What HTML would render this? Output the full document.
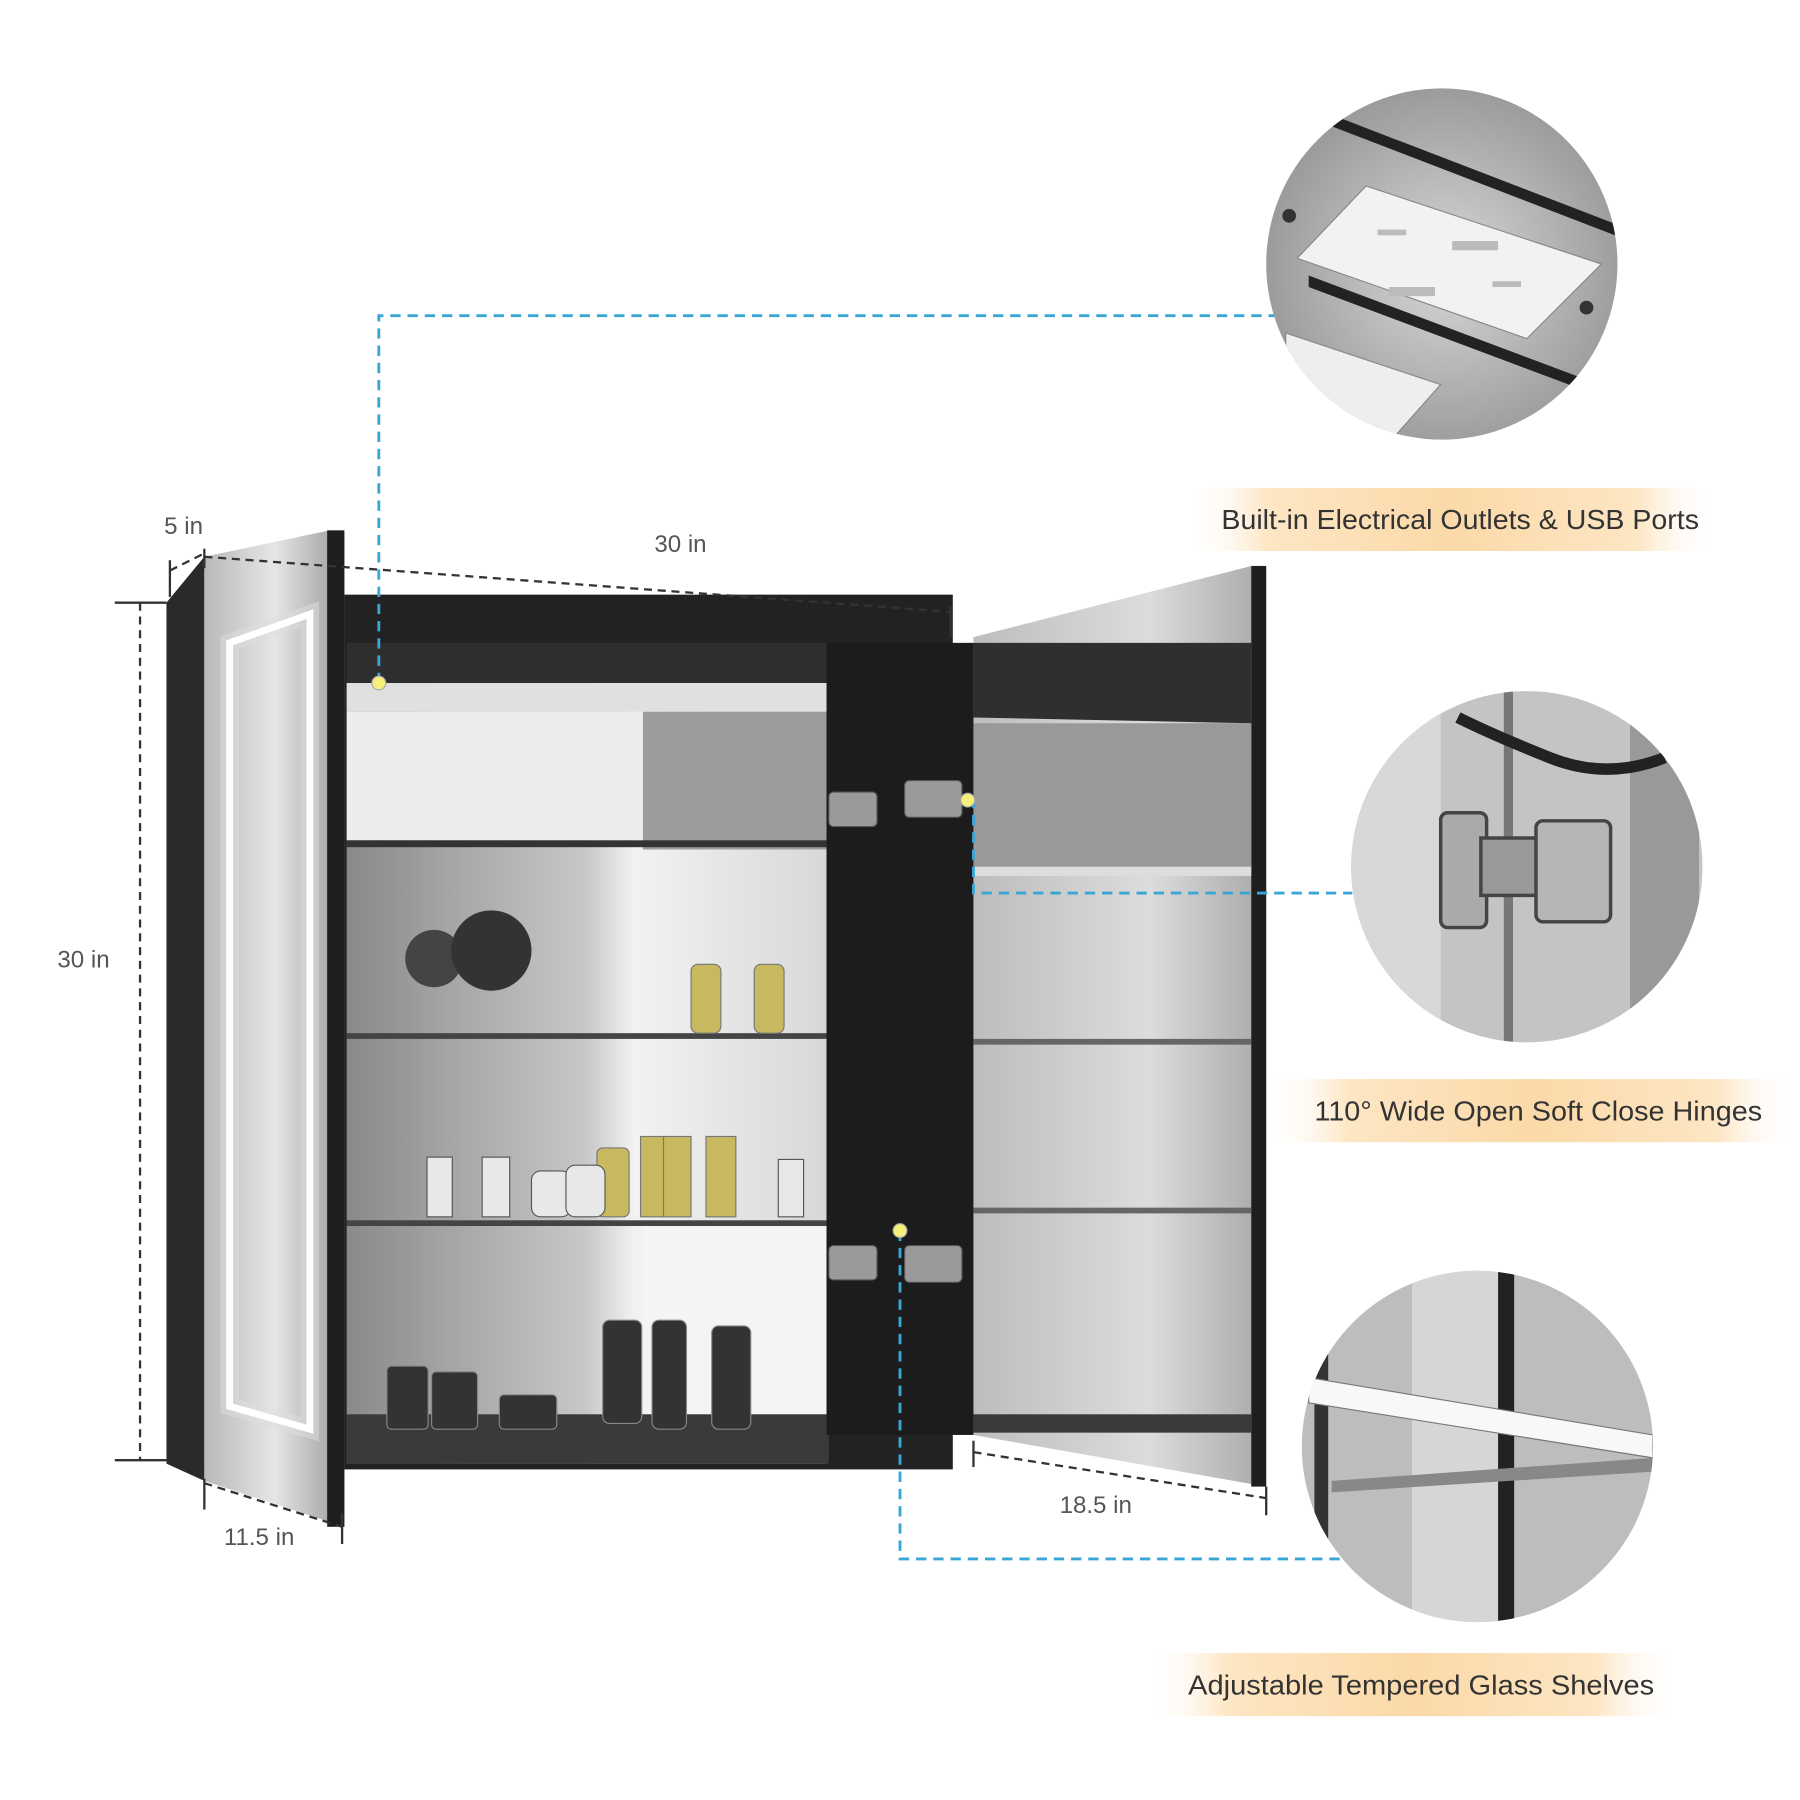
<!DOCTYPE html>
<html><head><meta charset="utf-8"><style>
html,body{margin:0;padding:0;background:#fff;}
svg{display:block;}
text{font-family:"Liberation Sans",sans-serif;}
</style></head><body>
<svg width="1800" height="1800" viewBox="0 0 1568 1568" xmlns="http://www.w3.org/2000/svg">
<defs>
<linearGradient id="mir" x1="0" y1="0" x2="1" y2="0"><stop offset="0" stop-color="#b8b8b8"/><stop offset=".5" stop-color="#e6e6e6"/><stop offset="1" stop-color="#9a9a9a"/></linearGradient>
<linearGradient id="inner" x1="0" y1="0" x2="1" y2="0"><stop offset="0" stop-color="#8a8a8a"/><stop offset=".5" stop-color="#c8c8c8"/><stop offset=".6" stop-color="#f2f2f2"/><stop offset="1" stop-color="#d8d8d8"/></linearGradient>
<linearGradient id="rdoor" x1="0" y1="0" x2="1" y2="0"><stop offset="0" stop-color="#bdbdbd"/><stop offset=".6" stop-color="#dcdcdc"/><stop offset="1" stop-color="#a8a8a8"/></linearGradient>
<linearGradient id="lab" x1="0" y1="0" x2="1" y2="0"><stop offset="0" stop-color="#fff" stop-opacity="0"/><stop offset=".15" stop-color="#fde6c4"/><stop offset=".5" stop-color="#fbd9a8"/><stop offset=".85" stop-color="#fde6c4"/><stop offset="1" stop-color="#fff" stop-opacity="0"/></linearGradient>
<radialGradient id="c1" cx=".5" cy=".5" r=".6"><stop offset="0" stop-color="#d8d8d8"/><stop offset="1" stop-color="#8e8e8e"/></radialGradient>
<clipPath id="cp1"><circle cx="1256" cy="230" r="153"/></clipPath>
<clipPath id="cp2"><circle cx="1330" cy="755" r="153"/></clipPath>
<clipPath id="cp3"><circle cx="1287" cy="1260" r="153"/></clipPath>
</defs>

<!-- Left door -->
<polygon points="145,525 178,485 178,1290 145,1275" fill="#2a2a2a"/>
<polygon points="178,485 287,462 300,465 300,1330 178,1290" fill="url(#mir)"/>
<rect x="285" y="462" width="15" height="868" fill="#1e1e1e"/>
<polygon points="200,560 270,535 270,1245 200,1225" fill="none" stroke="#ddd" stroke-width="16" stroke-opacity=".5"/>
<polygon points="200,560 270,535 270,1245 200,1225" fill="none" stroke="#fff" stroke-width="6"/>

<!-- Cabinet body -->
<rect x="300" y="518" width="530" height="762" fill="#222"/>
<rect x="302" y="595" width="418" height="680" fill="url(#inner)"/>
<rect x="302" y="560" width="420" height="35" fill="#2e2e2e"/>
<rect x="302" y="595" width="420" height="25" fill="#e0e0e0"/>
<rect x="560" y="620" width="160" height="120" fill="#9c9c9c"/>
<rect x="302" y="620" width="258" height="112" fill="#ececec"/>
<rect x="302" y="732" width="420" height="6" fill="#333"/>
<rect x="302" y="900" width="420" height="5" fill="#444"/>
<rect x="302" y="1063" width="420" height="5" fill="#444"/>
<rect x="560" y="1068" width="160" height="170" fill="#f4f4f4"/>
<rect x="302" y="1232" width="420" height="43" fill="#3a3a3a"/>
<!-- divider -->
<rect x="720" y="560" width="128" height="690" fill="#1c1c1c"/>
<g fill="#9a9a9a" stroke="#555"><rect x="722" y="690" width="42" height="30" rx="4"/><rect x="788" y="680" width="50" height="32" rx="4"/><rect x="722" y="1085" width="42" height="30" rx="4"/><rect x="788" y="1085" width="50" height="32" rx="4"/></g>
<!-- mirrors -->
<circle cx="378" cy="835" r="25" fill="#444"/><circle cx="428" cy="828" r="35" fill="#333"/>
<!-- bottles -->
<g fill="#c8b860" stroke="#777">
<rect x="602" y="840" width="26" height="60" rx="6"/><rect x="657" y="840" width="26" height="60" rx="6"/>
<rect x="520" y="1000" width="28" height="60" rx="5"/><rect x="558" y="990" width="22" height="70"/><rect x="578" y="990" width="24" height="70"/><rect x="615" y="990" width="26" height="70"/>
<rect x="873" y="848" width="26" height="55" rx="6"/><rect x="935" y="840" width="26" height="62" rx="6"/>
<rect x="910" y="990" width="24" height="65"/><rect x="943" y="990" width="24" height="65"/><rect x="975" y="990" width="24" height="65"/><rect x="1008" y="995" width="24" height="60"/>
</g>
<g fill="#e8e8e8" stroke="#555">
<rect x="372" y="1008" width="22" height="52"/><rect x="420" y="1008" width="24" height="52"/><rect x="678" y="1010" width="22" height="50"/><rect x="858" y="1005" width="22" height="50"/>
<rect x="463" y="1020" width="34" height="40" rx="8"/><rect x="493" y="1015" width="34" height="45" rx="8"/><rect x="1045" y="1015" width="36" height="40" rx="8"/>
</g>
<g fill="#333" stroke="#888">
<rect x="525" y="1150" width="34" height="90" rx="6"/><rect x="568" y="1150" width="30" height="95" rx="6"/><rect x="620" y="1155" width="34" height="90" rx="6"/>
<rect x="337" y="1190" width="36" height="55" rx="4"/><rect x="376" y="1195" width="40" height="50" rx="4"/><rect x="435" y="1215" width="50" height="30" rx="4"/>
<rect x="900" y="1135" width="34" height="85" rx="6"/><rect x="945" y="1135" width="34" height="85" rx="6"/><rect x="992" y="1135" width="32" height="85" rx="6"/><rect x="1040" y="1185" width="45" height="32" rx="4"/>
</g>

<!-- Right door -->
<polygon points="848,555 1090,493 1103,495 1103,1295 848,1250" fill="url(#rdoor)"/>
<rect x="1090" y="493" width="13" height="802" fill="#1e1e1e"/>
<polygon points="848,560 1090,560 1090,630 848,625" fill="#2f2f2f"/>
<polygon points="848,630 1090,630 1090,760 848,760" fill="#999"/>
<rect x="848" y="755" width="242" height="8" fill="#ddd"/>
<rect x="848" y="905" width="242" height="5" fill="#666"/>
<rect x="848" y="1052" width="242" height="5" fill="#666"/>
<rect x="848" y="1232" width="242" height="16" fill="#3a3a3a"/>

<!-- Circles -->
<g clip-path="url(#cp1)"><rect x="1100" y="75" width="320" height="320" fill="url(#c1)"/>
<polygon points="1160,100 1420,200 1420,210 1160,110" fill="#222"/>
<polygon points="1140,240 1420,345 1420,355 1140,250" fill="#222"/>
<polygon points="1130,225 1190,162 1395,230 1330,295" fill="#f2f2f2" stroke="#888"/>
<g fill="#bbb"><rect x="1200" y="200" width="25" height="5"/><rect x="1265" y="210" width="40" height="8"/><rect x="1210" y="250" width="40" height="8"/><rect x="1300" y="245" width="25" height="5"/></g>
<circle cx="1123" cy="188" r="6" fill="#333"/><circle cx="1382" cy="268" r="6" fill="#333"/>
<polygon points="1120,290 1255,335 1215,380 1120,360" fill="#eee" stroke="#888"/></g>
<g clip-path="url(#cp2)"><rect x="1175" y="600" width="320" height="320" fill="#c4c4c4"/>
<rect x="1175" y="600" width="80" height="320" fill="#d8d8d8"/><rect x="1310" y="600" width="8" height="320" fill="#777"/><rect x="1420" y="600" width="60" height="320" fill="#999"/>
<path d="M1270,625 Q1300,640 1350,660 T1450,660" stroke="#222" stroke-width="10" fill="none"/>
<rect x="1255" y="708" width="40" height="100" rx="6" fill="#aaa" stroke="#444" stroke-width="3"/>
<rect x="1290" y="730" width="50" height="50" fill="#999" stroke="#444" stroke-width="3"/>
<rect x="1338" y="715" width="65" height="88" rx="6" fill="#b5b5b5" stroke="#444" stroke-width="3"/></g>
<g clip-path="url(#cp3)"><rect x="1130" y="1105" width="320" height="320" fill="#bdbdbd"/>
<rect x="1230" y="1105" width="80" height="320" fill="#d6d6d6"/><rect x="1305" y="1105" width="14" height="320" fill="#222"/><rect x="1145" y="1105" width="12" height="320" fill="#333"/>
<polygon points="1140,1200 1440,1250 1440,1270 1140,1222" fill="#f8f8f8" stroke="#777"/>
<polygon points="1160,1290 1440,1270 1440,1282 1160,1300" fill="#888"/></g>

<!-- Blue dashed connectors -->
<g stroke="#3aa6d6" stroke-width="2.5" stroke-dasharray="9,6" fill="none">
<polyline points="330,595 330,275 1110,275"/>
<polyline points="848,695 848,778 1178,778"/>
<polyline points="784,1072 784,1358 1170,1358"/>
</g>
<g fill="#f6f07a" stroke="#aaa"><circle cx="330" cy="595" r="6"/><circle cx="843" cy="697" r="6"/><circle cx="784" cy="1072" r="6"/></g>

<!-- Dimension lines -->
<g stroke="#333" stroke-width="2" stroke-dasharray="7,5" fill="none">
<line x1="122" y1="525" x2="122" y2="1272"/>
<line x1="148" y1="497" x2="178" y2="482"/>
<line x1="178" y1="485" x2="828" y2="533"/>
<line x1="178" y1="1292" x2="298" y2="1330"/>
<line x1="848" y1="1265" x2="1103" y2="1305"/>
</g>
<g stroke="#333" stroke-width="2">
<line x1="100" y1="525" x2="145" y2="525"/><line x1="100" y1="1272" x2="145" y2="1272"/>
<line x1="148" y1="488" x2="148" y2="520"/><line x1="178" y1="478" x2="178" y2="495"/>
<line x1="828" y1="528" x2="828" y2="555"/>
<line x1="178" y1="1288" x2="178" y2="1315"/><line x1="298" y1="1318" x2="298" y2="1345"/>
<line x1="848" y1="1255" x2="848" y2="1278"/><line x1="1103" y1="1295" x2="1103" y2="1320"/>
</g>
<g fill="#555" font-size="21">
<text x="143" y="465">5 in</text>
<text x="570" y="481">30 in</text>
<text x="50" y="843">30 in</text>
<text x="195" y="1346">11.5 in</text>
<text x="923" y="1318">18.5 in</text>
</g>

<!-- Labels -->
<rect x="1035" y="425" width="460" height="55" fill="url(#lab)"/>
<rect x="1105" y="940" width="460" height="55" fill="url(#lab)"/>
<rect x="1000" y="1440" width="460" height="55" fill="url(#lab)"/>
<g fill="#333" font-size="24">
<text x="1064" y="461" textLength="416" lengthAdjust="spacingAndGlyphs">Built-in Electrical Outlets &amp; USB Ports</text>
<text x="1145" y="976" textLength="390" lengthAdjust="spacingAndGlyphs">110° Wide Open Soft Close Hinges</text>
<text x="1035" y="1476" textLength="406" lengthAdjust="spacingAndGlyphs">Adjustable Tempered Glass Shelves</text>
</g>
</svg>
</body></html>
